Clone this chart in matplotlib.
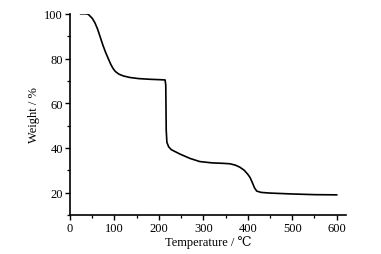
import matplotlib
matplotlib.use("Agg")
import matplotlib.pyplot as plt
from matplotlib.ticker import MultipleLocator

plt.rcParams['font.family'] = ['Liberation Serif', 'DejaVu Serif', 'Noto Sans CJK SC']

temperature = [24, 35, 41, 50, 56, 62, 68, 74, 80, 86, 92, 97, 102, 110, 120, 135, 155, 180, 205, 214, 215.5,
               216.5, 218, 222, 228, 248, 270, 292, 320, 345, 360, 372, 382, 392, 400, 405, 410,
               415, 420, 430, 450, 500, 550, 600]
weight = [100, 100, 99.8, 98.0, 96.0, 93.2, 89.6, 86.0, 82.8, 80.0, 77.3, 75.5, 74.2, 73.0, 72.2, 71.5, 71.0, 70.7, 70.5, 70.4, 68,
          48, 42.5, 40.5, 39.2, 37.2, 35.3, 33.9, 33.3, 33.1, 32.9, 32.3, 31.4, 30.0, 28.2, 26.8, 24.6,
          22.2, 20.7, 20.1, 19.8, 19.4, 19.1, 19.0]

fig = plt.figure(figsize=(3.81, 2.55), dpi=100)
ax = fig.add_axes([0.1837, 0.153, 0.7233, 0.789])
ax.plot(temperature, weight, color='black', lw=1.2)
ax.set_xlim(0, 620)
ax.set_ylim(10, 100)
ax.xaxis.set_major_locator(MultipleLocator(100))
ax.xaxis.set_minor_locator(MultipleLocator(50))
ax.yaxis.set_minor_locator(MultipleLocator(10))
ax.set_yticks([20, 40, 60, 80, 100])
for s in ['top', 'right']:
    ax.spines[s].set_visible(False)
for s in ['left', 'bottom']:
    ax.spines[s].set_linewidth(1.2)
ax.tick_params(which='major', direction='out', length=3.5, width=1.0, labelsize=9, pad=1.5)
ax.tick_params(which='minor', direction='out', length=2, width=0.9)
ax.set_xlabel('Temperature / ℃', fontsize=9, labelpad=1)
ax.set_ylabel('Weight / %', fontsize=9, labelpad=3)
fig.savefig('out.png', dpi=100)
